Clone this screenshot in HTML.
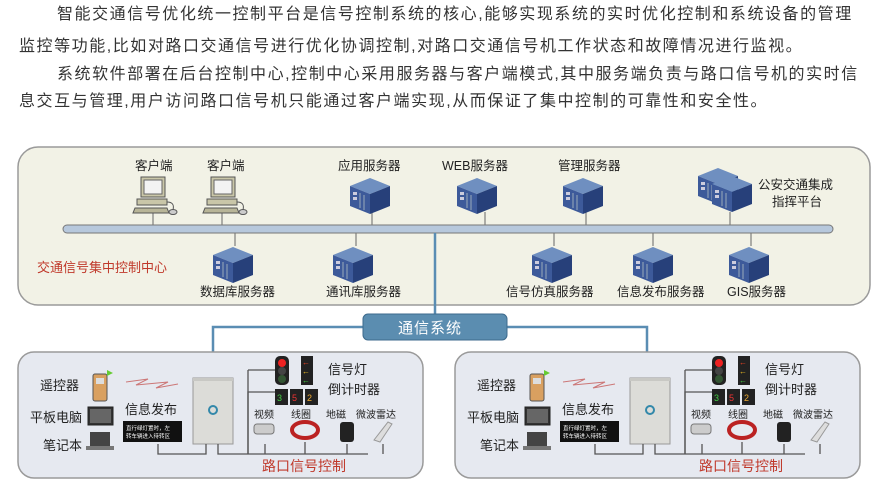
<!DOCTYPE html>
<html><head><meta charset="utf-8"><style>
html,body{margin:0;padding:0;background:#fff;width:890px;height:493px;overflow:hidden}
.p{position:absolute;font-family:"Liberation Sans","Noto Sans CJK SC",sans-serif;font-size:16px;color:#333;letter-spacing:1.55px;white-space:nowrap;line-height:20px}
svg text{font-family:"Liberation Sans","Noto Sans CJK SC",sans-serif}
</style></head><body>
<div class="p" style="left:57px;top:5px">智能交通信号优化统一控制平台是信号控制系统的核心,能够实现系统的实时优化控制和系统设备的管理</div>
<div class="p" style="left:19px;top:37px">监控等功能,比如对路口交通信号进行优化协调控制,对路口交通信号机工作状态和故障情况进行监视。</div>
<div class="p" style="left:57px;top:65px">系统软件部署在后台控制中心,控制中心采用服务器与客户端模式,其中服务端负责与路口信号机的实时信</div>
<div class="p" style="left:19px;top:92px">息交互与管理,用户访问路口信号机只能通过客户端实现,从而保证了集中控制的可靠性和安全性。</div>
<svg width="890" height="493" style="position:absolute;left:0;top:0">
<defs>
<g id="srv">
<polygon points="0,8 20,0 40,8 20,16" fill="#6f8fc0"/>
<polygon points="0,8 20,16 20,36 0,28" fill="#3d5a9a"/>
<polygon points="20,16 40,8 40,28 20,36" fill="#27407a"/>
<rect x="3" y="14" width="4" height="3" fill="#ccd"/><rect x="3" y="19" width="4" height="3" fill="#ccd"/>
<line x1="10" y1="15" x2="10" y2="30" stroke="#9ab" stroke-width="1"/><line x1="14" y1="17" x2="14" y2="32" stroke="#9ab"/>
</g>
<g id="pc">
<rect x="8" y="0" width="24" height="20" fill="#c9c6a8" stroke="#555"/>
<rect x="11" y="3" width="18" height="14" fill="#f3f3f3" stroke="#666"/>
<rect x="4" y="22" width="30" height="6" fill="#c9c6a8" stroke="#555"/>
<polygon points="2,31 34,31 36,36 0,36" fill="#b8b598" stroke="#555"/>
<path d="M34,25 q8,0 6,8" fill="none" stroke="#555"/><ellipse cx="40" cy="35" rx="4" ry="2.5" fill="#ccc" stroke="#555"/>
</g>
<g id="site">
<rect x="0" y="0" width="405" height="126" rx="16" fill="#e6e9f0" stroke="#9a9a9a" stroke-width="1.5"/>
<text x="22" y="38" font-size="13" fill="#222">遥控器</text>
<text x="12" y="70" font-size="13" fill="#222">平板电脑</text>
<text x="25" y="98" font-size="13" fill="#222">笔记本</text>
<rect x="75" y="22" width="14" height="27" rx="2" fill="#d9a060" stroke="#555"/><rect x="78" y="26" width="8" height="6" fill="#ddd"/>
<polygon points="89,18 95,21 89,24" fill="#6c3"/>
<rect x="70" y="55" width="25" height="18" fill="#333" stroke="#222"/><rect x="72" y="57" width="21" height="14" fill="#666"/>
<rect x="72" y="80" width="20" height="14" fill="#444"/><rect x="68" y="94" width="28" height="4" fill="#777"/>
<polyline points="108,30 130,27 118,33 150,30 138,36 160,32" fill="none" stroke="#c77" stroke-width="1"/>
<text x="107" y="62" font-size="13" fill="#222">信息发布</text>
<rect x="105" y="69" width="59" height="21" fill="#111"/>
<text x="108" y="78" font-size="5.5" fill="#fff">直行绿灯置时，左</text><text x="108" y="86" font-size="5.5" fill="#fff">转车辆进入待转区</text>
<rect x="175" y="26" width="40" height="66" fill="#dcdcd8" stroke="#999"/><rect x="175" y="26" width="40" height="3" fill="#c8c8c4"/>
<circle cx="195" cy="58" r="4" fill="none" stroke="#38a" stroke-width="2"/>
<rect x="257" y="4" width="14" height="29" rx="5" fill="#222"/><circle cx="264" cy="11" r="4" fill="#e22"/><circle cx="264" cy="19" r="4" fill="#444"/><circle cx="264" cy="27" r="4" fill="#353"/>
<rect x="283" y="4" width="12" height="29" fill="#222"/><text x="284" y="13" font-size="8" fill="#e42">←</text><text x="284" y="22" font-size="8" fill="#eb2">←</text><text x="284" y="31" font-size="8" fill="#4c4">←</text>
<rect x="257" y="37" width="13" height="16" fill="#222"/><rect x="272" y="37" width="13" height="16" fill="#222"/><rect x="287" y="37" width="13" height="16" fill="#222"/>
<text x="259" y="49" font-size="9" fill="#4c4">3</text><text x="274" y="49" font-size="9" fill="#e33">5</text><text x="289" y="49" font-size="9" fill="#ea3">2</text>
<text x="310" y="22" font-size="13" fill="#222">信号灯</text><text x="310" y="42" font-size="13" fill="#222">倒计时器</text>
<text x="236" y="66" font-size="10" fill="#222">视频</text><text x="273" y="66" font-size="10" fill="#222">线圈</text><text x="308" y="66" font-size="10" fill="#222">地磁</text><text x="338" y="66" font-size="10" fill="#222">微波雷达</text>
<rect x="236" y="72" width="20" height="10" rx="3" fill="#ccc" stroke="#777"/>
<ellipse cx="287" cy="78" rx="13" ry="8" fill="none" stroke="#b22" stroke-width="4"/>
<rect x="322" y="70" width="14" height="20" rx="3" fill="#222"/>
<polygon points="356,88 370,70 374,72 362,90" fill="#ddd" stroke="#999"/>
<g fill="none" stroke="#555" stroke-width="1.3">
<polyline points="140,92 140,102 188,102 188,92"/>
<polyline points="200,92 200,102 350,102"/>
<polyline points="230,102 230,40 257,40"/><line x1="230" y1="18" x2="257" y2="18"/><polyline points="230,102 230,18"/>
<line x1="247" y1="92" x2="247" y2="102"/><line x1="287" y1="90" x2="287" y2="102"/><line x1="329" y1="92" x2="329" y2="102"/><line x1="365" y1="92" x2="365" y2="102"/>
</g>
<text x="244" y="119" font-size="14" fill="#c0392b">路口信号控制</text>
</g>
</defs>
<rect x="18" y="147" width="852" height="158" rx="20" fill="#f2f2e6" stroke="#9a9a9a" stroke-width="1.5"/>
<g fill="#222" font-size="12.5">
<text x="135" y="170">客户端</text><text x="207" y="170">客户端</text><text x="338" y="170">应用服务器</text>
<text x="442" y="170">WEB服务器</text><text x="558" y="170">管理服务器</text>
<text x="758" y="189">公安交通集成</text><text x="772" y="206">指挥平台</text>
<text x="200" y="296">数据库服务器</text><text x="326" y="296">通讯库服务器</text><text x="506" y="296">信号仿真服务器</text><text x="617" y="296">信息发布服务器</text><text x="727" y="296">GIS服务器</text>
</g>
<text x="37" y="272" font-size="13" fill="#c0392b">交通信号集中控制中心</text>
<g stroke="#666" stroke-width="1">
<line x1="153" y1="212" x2="153" y2="226"/><line x1="222" y1="212" x2="222" y2="226"/><line x1="372" y1="212" x2="372" y2="226"/>
<line x1="485" y1="212" x2="485" y2="226"/><line x1="586" y1="212" x2="586" y2="226"/><line x1="730" y1="212" x2="730" y2="226"/>
<line x1="235" y1="232" x2="235" y2="246"/><line x1="356" y1="232" x2="356" y2="246"/><line x1="554" y1="232" x2="554" y2="246"/><line x1="653" y1="232" x2="653" y2="246"/><line x1="751" y1="232" x2="751" y2="246"/>
</g>
<rect x="63" y="225" width="770" height="8" rx="4" fill="#b7c8dc" stroke="#777"/>
<use href="#pc" x="133" y="177"/><use href="#pc" x="203" y="177"/>
<use href="#srv" x="350" y="178"/><use href="#srv" x="457" y="178"/><use href="#srv" x="563" y="178"/>
<use href="#srv" x="698" y="168"/><use href="#srv" x="712" y="176"/>
<use href="#srv" x="213" y="247"/><use href="#srv" x="333" y="247"/><use href="#srv" x="532" y="247"/><use href="#srv" x="633" y="247"/><use href="#srv" x="729" y="247"/>
<g fill="none" stroke="#5a8db3" stroke-width="2.5">
<line x1="435" y1="233" x2="435" y2="315"/>
<polyline points="364,327 213,327 213,370"/>
<polyline points="506,327 647,327 647,370"/>
</g>
<rect x="363" y="314" width="144" height="26" rx="5" fill="#5b8db0" stroke="#3d6a8c"/>
<text x="398" y="333" font-size="15" fill="#fff" letter-spacing="1">通信系统</text>
<use href="#site" x="18" y="352"/>
<use href="#site" x="455" y="352"/>
</svg>
</body></html>
